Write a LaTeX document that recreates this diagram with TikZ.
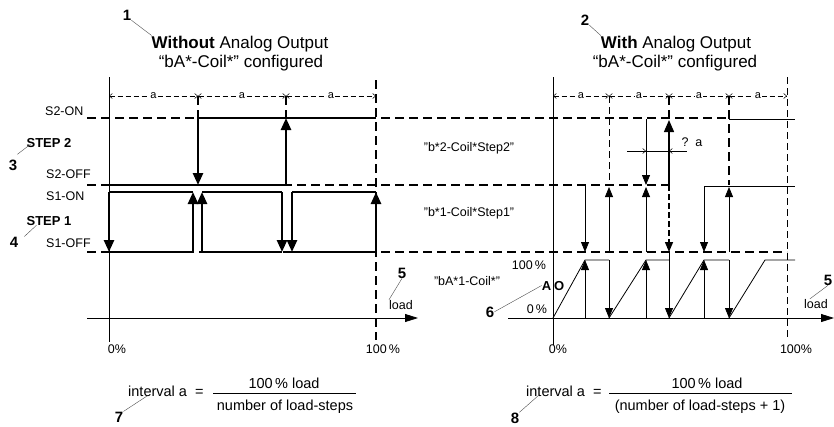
\documentclass[tikz,border=0pt]{standalone}
\usepackage{fontspec}
\setmainfont{Liberation Sans}
\usepackage{tikz}
\usetikzlibrary{arrows.meta, positioning}

\begin{document}
\begin{tikzpicture}[x=1pt, y=-1pt,
        heavy/.style={line width=2.6pt},
        heavydash/.style={line width=2.6pt, dash pattern=on 9pt off 5pt},
        middash/.style={line width=1.4pt, dash pattern=on 6pt off 3pt},
        thindash/.style={line width=0.8pt, dash pattern=on 7pt off 4pt},
        fine/.style={line width=0.8pt},
        bigarrow/.style={-{Triangle[length=12pt, width=10pt]}},
        arrow/.style={-{Triangle[length=10pt, width=8pt]}},
        dim/.style={line width=0.5pt, dash pattern=on 5pt off 3pt, <->, >={Straight Barb[length=3pt, width=5pt]}},
        dimtxt/.style={fill=white, inner sep=1pt, font=\fontsize{11}{12}\selectfont},
        lbl/.style={inner sep=0pt, anchor=base, font=\fontsize{12.5}{14}\selectfont},
        head/.style={inner sep=0pt, anchor=base, font=\fontsize{17}{19}\selectfont},
        num/.style={inner sep=0pt, anchor=base, font=\bfseries\fontsize{15}{17}\selectfont},
        frm/.style={inner sep=0pt, anchor=base, font=\fontsize{14.5}{16}\selectfont},
        leader/.style={line width=0.4pt, black!70}
        ]
        \useasboundingbox (0,0) rectangle (834,426);

        % axes
        \draw[fine] (109,77) -- (109,342);
        \draw[fine, -{Triangle[length=13pt, width=8pt]}] (87,318) -- (418,318);
        \draw[fine] (553,77) -- (553,345);
        \draw[fine, -{Triangle[length=13pt, width=8pt]}] (508,318) -- (834,318);

        % switching levels
        \draw[heavydash] (87,118) -- (729,118);
        \draw[heavydash] (87,185) -- (669,185);
        \draw[heavydash] (87,252) -- (787,252);
        \draw[heavydash] (376,80) -- (376,340);
        \draw[thindash] (787,77) -- (787,340);

        % interval a, without AO
        \foreach \xa/\xb in {109/198, 198/286, 286/376}
            \draw[dim] (\xa,96) -- node[dimtxt] {a} (\xb,96);
        \foreach \xa in {198, 286}
            \draw[heavydash] (\xa,96) -- (\xa,118);

        % step 2
        \draw[heavy] (109,185) -- (286,185);
        \draw[heavy] (198,118) -- (376,118);
        \draw[heavy, bigarrow] (198,118) -- (198,185);
        \draw[heavy, bigarrow] (286,185) -- (286,118);

        % step 1
        \foreach \xa/\xb in {109/193, 202/282, 292/376} {
            \draw[heavy] (\xa,192) -- (\xb,192);
            \draw[heavy] (\xa,252) -- (\xb,252);
        }
        \foreach \xx in {109, 282, 292}
            \draw[heavy, bigarrow] (\xx,192) -- (\xx,252);
        \foreach \xx in {193, 202, 376}
            \draw[heavy, bigarrow] (\xx,252) -- (\xx,192);

        % interval a, with AO
        \foreach \xa/\xb in {553/609, 609/669, 669/729, 729/787}
            \draw[dim] (\xa,96) -- node[dimtxt] {a} (\xb,96);
        \draw[thindash] (609,96) -- (609,185);
        \draw[heavydash] (669,96) -- (669,118);
        \draw[heavydash] (729,96) -- (729,185);
        \draw[fine] (729,119) -- (795,119);
        \draw[fine] (704,186) -- (795,186);

        % b*2 / b*1
        \draw[line width=1.4pt, bigarrow] (669,185) -- (669,120);
        \draw[middash, arrow] (669,185) -- (669,252);
        \draw[fine, arrow] (646,119) -- (646,185);
        \foreach \xx in {585, 704}
            \draw[fine, arrow] (\xx,186) -- (\xx,252);
        \foreach \xx in {609, 646, 729}
            \draw[fine, arrow] (\xx,252) -- (\xx,187);
        \draw[line width=0.5pt] (627,151) -- (687,151);
        \draw[line width=0.5pt, -{Straight Barb[length=3pt, width=5pt]}] (630,151) -- (646,151);
        \draw[line width=0.5pt, -{Straight Barb[length=3pt, width=5pt]}] (684,151) -- (669,151);

        % analog output
        \foreach \xa/\xb/\xc in {553/585/609, 609/646/669, 669/704/729, 729/765/795}
            \draw[fine] (\xa,318) -- (\xb,260) -- (\xc,260);
        \foreach \xx in {585, 646, 704}
            \draw[fine, arrow] (\xx,318) -- (\xx,260);
        \foreach \xx in {609, 669, 729}
            \draw[fine, arrow] (\xx,260) -- (\xx,318);
        \draw[fine] (669,252) -- (669,260);

        % titles
        \node[num] (n1) at (127,20) {1};
        \node[head] (wo1) at (240,48) {\textbf{Without} Analog Output};
        \node[head] (wo2) at (241,67) {“bA*-Coil*” configured};
        \node[num] (n2) at (585,25) {2};
        \node[head] (wi1) at (676,48) {\textbf{With} Analog Output};
        \node[head] (wi2) at (675,67) {“bA*-Coil*” configured};
        \draw[leader] (n1.south east) -- (wo1.north west);
        \draw[leader] (n2.south east) -- (wi1.north west);

        % level labels
        \node[lbl, anchor=base west] (s2on) at (45,115) {S2-ON};
        \node[lbl, anchor=base west] (s2off) at (46,178) {S2-OFF};
        \node[lbl, anchor=base west] (s1on) at (46,200) {S1-ON};
        \node[lbl, anchor=base west] (s1off) at (46,247) {S1-OFF};
        \node[lbl, font=\bfseries\fontsize{13}{15}\selectfont] (st2) at (49,147) {STEP 2};
        \node[lbl, font=\bfseries\fontsize{13}{15}\selectfont] (st1) at (49,225) {STEP 1};
        \node[num] (n3) at (13,170) {3};
        \node[num] (n4) at (14,247) {4};
        \draw[leader] ([yshift=5pt]n3.north east) -- ([xshift=4pt, yshift=3pt]st2.south west);
        \draw[leader] ([xshift=6pt]n4.north east) -- ([xshift=10pt]st1.south west);

        \node[lbl] (b2) at (469,151) {"b*2-Coil*Step2"};
        \node[lbl] (b1) at (469,216) {"b*1-Coil*Step1"};
        \node[lbl] (bA) at (467,285) {"bA*1-Coil*"};
        \node[lbl] (ao100) at (529,269) {100\,\%};
        \node[lbl] (ao0) at (537,313) {0\,\%};
        \node[lbl, font=\bfseries\fontsize{13}{15}\selectfont] (ao) at (553,290) {A\hspace{3pt}O};
        \node[num] (n6) at (490,317) {6};
        \draw[leader] (n6.east) -- (ao.west);
        \node[lbl] (qa) at (692,146) {?\ \ a};

        % load axis
        \node[lbl] (l0) at (117,353) {0\%};
        \node[lbl] (l100) at (383,353) {100\,\%};
        \node[lbl] (r0) at (558,353) {0\%};
        \node[lbl] (r100) at (796,353) {100\%};
        \node[num] (n5l) at (402,278) {5};
        \node[lbl] (loadl) at (401,309) {load};
        \draw[leader] (n5l.south) -- (loadl.north west);
        \node[num] (n5r) at (828,285) {5};
        \node[lbl] (loadr) at (816,308) {load};
        \draw[leader] (n5r.south) -- ([xshift=6pt]loadr.north west);

        % interval formulas
        \node[frm, anchor=base west] (ia7) at (128,396) {interval a \ =};
        \node[frm] (fn7) at (284,388) {100\,\% load};
        \draw[fine] (213,393) -- (356,393);
        \node[frm] (fd7) at (285,410) {number of load-steps};
        \node[num] (n7) at (119,422) {7};
        \coordinate (p7) at (147,396);
        \draw[leader] (n7.north east) -- (p7);

        \node[frm, anchor=base west] (ia8) at (526,396) {interval a \ =};
        \node[frm] (fn8) at (707,388) {100\,\% load};
        \draw[fine] (609,393) -- (792,393);
        \node[frm] (fd8) at (700,410) {(number of load-steps + 1)};
        \node[num] (n8) at (515,423) {8};
        \coordinate (p8) at (539,395);
        \draw[leader] (n8.north east) -- (p8);
\end{tikzpicture}
\end{document}
